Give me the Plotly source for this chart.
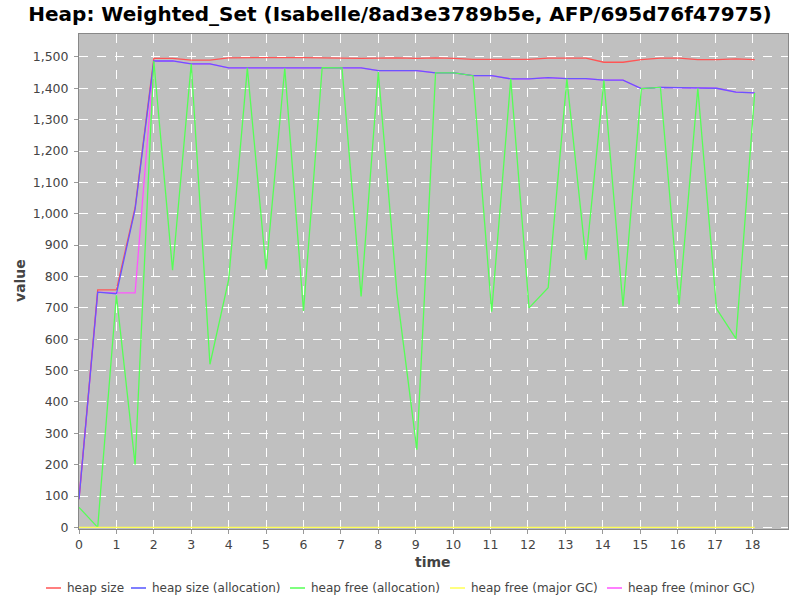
import plotly.graph_objects as go

time = [0, 0.5, 1.0, 1.5, 2.0, 2.5, 3.0, 3.5, 4.0, 4.5, 5.0, 5.5, 6.0, 6.5,
        7.03, 7.54, 8.0, 8.5, 9.03, 9.53, 10.03, 10.53, 11.03, 11.54, 12.03,
        12.54, 13.04, 13.55, 14.03, 14.54, 15.03, 15.54, 16.04, 16.54, 17.04,
        17.56, 18.06]

heap_size = [90, 757, 757, 1020, 1495, 1495, 1490, 1490, 1497, 1498, 1498, 1498,
             1498, 1497, 1495, 1495, 1496, 1497, 1495, 1497, 1495, 1492, 1492,
             1492, 1492, 1496, 1496, 1496, 1483, 1483, 1491, 1496, 1496, 1491,
             1491, 1494, 1491]

heap_size_alloc = [90, 750, 745, 1015, 1487, 1487, 1478, 1478, 1465, 1465, 1465,
                   1464, 1464, 1466, 1465, 1465, 1456, 1456, 1456, 1449, 1449,
                   1440, 1440, 1430, 1430, 1434, 1431, 1431, 1426, 1426, 1399,
                   1403, 1402, 1400, 1400, 1388, 1385]

heap_free_alloc = [64, 0, 740, 200, 1487, 820, 1478, 520, 790, 1465, 822, 1464,
                   690, 1466, 1465, 736, 1452, 745, 248, 1449, 1449, 1440, 688,
                   1430, 700, 764, 1430, 853, 1425, 705, 1399, 1403, 710, 1400,
                   697, 602, 1385]

heap_free_major = [0] * len(time)

heap_free_minor = [90, 750, 748, 748, 1487, 1487, 1478, 1478, 1465, 1465, 1465,
                   1464, 1464, 1466, 1465, 1465, 1456, 1456, 1456, 1449, 1449,
                   1440, 1440, 1430, 1430, 1434, 1431, 1431, 1426, 1426, 1399,
                   1403, 1402, 1400, 1400, 1388, 1385]

series_names = ["heap size", "heap size (allocation)", "heap free (allocation)",
                "heap free (major GC)", "heap free (minor GC)"]
series_colors = ["rgb(255,85,85)", "rgb(85,85,255)", "rgb(85,255,85)",
                 "rgb(255,255,85)", "rgb(255,85,255)"]

fig = go.Figure()
# draw order: minor GC underneath so the allocation line stays visible on top
fig.add_trace(go.Scatter(x=time, y=heap_free_minor, mode="lines", name=series_names[4],
                         line=dict(color=series_colors[4], width=1.3)))
fig.add_trace(go.Scatter(x=time, y=heap_size, mode="lines", name=series_names[0],
                         line=dict(color=series_colors[0], width=1.3)))
fig.add_trace(go.Scatter(x=time, y=heap_size_alloc, mode="lines", name=series_names[1],
                         line=dict(color="rgb(105,85,255)", width=1.3)))
fig.add_trace(go.Scatter(x=time, y=heap_free_alloc, mode="lines", name=series_names[2],
                         line=dict(color=series_colors[2], width=1.3)))
fig.add_trace(go.Scatter(x=time, y=heap_free_major, mode="lines", name=series_names[3],
                         line=dict(color=series_colors[3], width=1.3)))

# custom legend (bottom row), positions in pixels converted to paper coords
L, R, T, B = 79, 12, 34, 71
PW, PH = 800 - L - R, 600 - T - B
def px_x(p):
    return (p - L) / PW
def px_y(p):
    return (600 - B - p) / PH

legend_line_x = [46, 131, 290, 450, 607]
legend_y = 588
shapes = []
annotations = []
for name, col, lx in zip(series_names, series_colors, legend_line_x):
    shapes.append(dict(type="line", xref="paper", yref="paper",
                       x0=px_x(lx), x1=px_x(lx + 15), y0=px_y(legend_y), y1=px_y(legend_y),
                       line=dict(color=col, width=1.5)))
    annotations.append(dict(text=name, xref="paper", yref="paper",
                            x=px_x(lx + 19), y=px_y(legend_y), xanchor="left", yanchor="middle",
                            showarrow=False, font=dict(family="DejaVu Sans", size=12, color="#444444")))
annotations.append(dict(text="<b>time</b>", xref="paper", yref="paper", x=px_x(433), y=px_y(562),
                        xanchor="center", yanchor="middle", showarrow=False,
                        font=dict(family="DejaVu Sans", size=14, color="#444444")))
annotations.append(dict(text="<b>value</b>", xref="paper", yref="paper", x=px_x(20), y=px_y(281),
                        xanchor="center", yanchor="middle", showarrow=False, textangle=-90,
                        font=dict(family="DejaVu Sans", size=14, color="#444444")))

fig.update_layout(
    width=800, height=600,
    margin=dict(l=L, r=R, t=T, b=B),
    paper_bgcolor="white",
    plot_bgcolor="#c0c0c0",
    font=dict(family="DejaVu Sans", size=12, color="#444444"),
    title=dict(text="<b>Heap: Weighted_Set (Isabelle/8ad3e3789b5e, AFP/695d76f47975)</b>",
               x=0.5, xanchor="center", y=1 - 14 / 600, yanchor="middle",
               font=dict(family="DejaVu Sans", size=20, color="black")),
    showlegend=False,
    shapes=shapes,
    annotations=annotations,
)
fig.update_xaxes(range=[0, 18.95], dtick=1, tick0=0, showgrid=True, automargin=False,
                 gridcolor="white", griddash="dash", gridwidth=1,
                 zeroline=False, showline=True, linecolor="#888888", mirror=True,
                 ticks="outside", ticklen=4, tickcolor="#999999",
                 tickfont=dict(size=12.5, color="#444444"))
fig.update_yaxes(range=[-5, 1573], dtick=100, tick0=0, tickformat=",d", showgrid=True,
                 automargin=False,
                 gridcolor="white", griddash="dash", gridwidth=1,
                 zeroline=False, showline=True, linecolor="#888888", mirror=True,
                 ticks="outside", ticklen=4, tickcolor="#999999", ticklabelstandoff=3,
                 tickfont=dict(size=12.5, color="#444444"))

fig.write_html("out.html", config={"displayModeBar": False},
               post_script="document.body.style.margin='0';document.body.style.overflow='hidden';")
